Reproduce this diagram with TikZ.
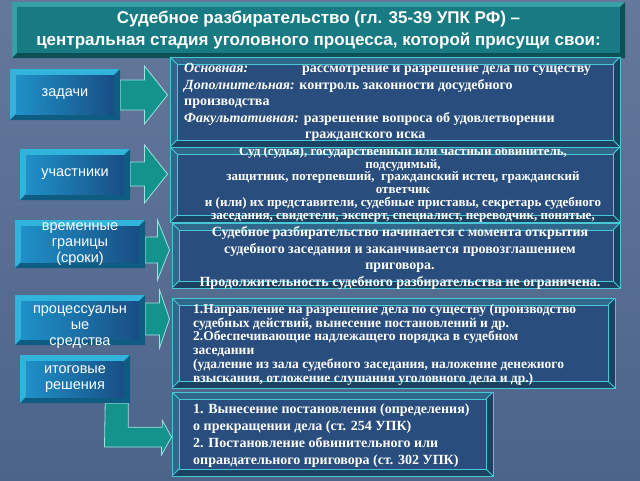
\documentclass[tikz,border=0pt]{standalone}
\usepackage{fontspec}
\setmainfont{Liberation Serif}
\setsansfont{Liberation Sans}
\usepackage{tikz}
\usetikzlibrary{calc, backgrounds}
\definecolor{slatetop}{RGB}{100,120,155}
\definecolor{slatebot}{RGB}{76,100,138}
\definecolor{titleteal}{RGB}{24,122,130}
\definecolor{titleedge}{RGB}{55,160,166}
\definecolor{titledark}{RGB}{12,80,86}
\definecolor{tabcyan}{RGB}{48,180,220}
\definecolor{tabdark}{RGB}{14,92,130}
\definecolor{tabface}{RGB}{30,145,200}
\definecolor{tabfacedark}{RGB}{24,78,132}
\definecolor{panelblue}{RGB}{41,77,124}
\definecolor{panelbevel}{RGB}{48,104,140}
\definecolor{paneldark}{RGB}{28,66,98}
\definecolor{paneledge}{RGB}{72,200,215}
\definecolor{arrowteal}{RGB}{20,146,140}
\definecolor{arrowedge}{RGB}{160,225,225}

% block arrow from a tab to a panel
\newcommand{\blockarrow}[6]{%
  \draw[blockarr] ($(#1.east |- 0,#3)+(0,-#4)$) -- ($(#2.west |- 0,#3)+(-#6-2,-#4)$)
    -- ($(#2.west |- 0,#3)+(-#6-2,-#5)$) -- ($(#2.west |- 0,#3)+(-2,0)$)
    -- ($(#2.west |- 0,#3)+(-#6-2,#5)$) -- ($(#2.west |- 0,#3)+(-#6-2,#4)$)
    -- ($(#1.east |- 0,#3)+(0,#4)$) -- cycle;}

\begin{document}
\begin{tikzpicture}[x=1pt, y=-1pt,
    titlebox/.style={minimum width=613pt, minimum height=56pt, inner sep=0pt, align=center, text=white,
      font=\sffamily\bfseries\fontsize{17}{22}\selectfont, fill=titleedge,
      path picture={
        \fill[titledark] (path picture bounding box.south west) -- (path picture bounding box.south east)
          -- (path picture bounding box.north east) -- ([shift={(-5pt,-5pt)}]path picture bounding box.north east)
          -- ([shift={(-5pt,5pt)}]path picture bounding box.south east) -- ([shift={(5pt,5pt)}]path picture bounding box.south west) -- cycle;
        \fill[titleteal] ([shift={(5pt,-5pt)}]path picture bounding box.north west) rectangle ([shift={(-5pt,5pt)}]path picture bounding box.south east);
      }},
    tab/.style={minimum width=110pt, minimum height=51pt, inner sep=0pt, align=center, text=white,
      font=\sffamily\fontsize{14.5}{16}\selectfont, fill=tabcyan,
      path picture={
        \fill[tabdark] (path picture bounding box.south west) -- (path picture bounding box.south east)
          -- (path picture bounding box.north east) -- ([shift={(-6pt,-6pt)}]path picture bounding box.north east)
          -- ([shift={(-6pt,6pt)}]path picture bounding box.south east) -- ([shift={(6pt,6pt)}]path picture bounding box.south west) -- cycle;
        \shade[left color=tabface, right color=tabfacedark] ([shift={(6pt,-6pt)}]path picture bounding box.north west) rectangle ([shift={(-6pt,6pt)}]path picture bounding box.south east);
      }},
    panel/.style={draw=paneledge, line width=1pt, fill=panelbevel, inner sep=0pt,
      path picture={
        \fill[paneldark] (path picture bounding box.south west) -- (path picture bounding box.south east)
          -- (path picture bounding box.north east) -- ([shift={(-7pt,-7pt)}]path picture bounding box.north east)
          -- ([shift={(-7pt,7pt)}]path picture bounding box.south east) -- ([shift={(7pt,7pt)}]path picture bounding box.south west) -- cycle;
        \draw[paneledge, fill=panelblue] ([shift={(7pt,-7pt)}]path picture bounding box.north west) rectangle ([shift={(-7pt,7pt)}]path picture bounding box.south east);
        \draw[paneledge] (path picture bounding box.north west) -- ++(7pt,-7pt);
        \draw[paneledge] (path picture bounding box.north east) -- ++(-7pt,-7pt);
        \draw[paneledge] (path picture bounding box.south west) -- ++(7pt,7pt);
        \draw[paneledge] (path picture bounding box.south east) -- ++(-7pt,7pt);
      }},
    paneltext/.style={inner sep=0pt, text=white},
    blockarr/.style={fill=arrowteal, draw=arrowedge, line width=0.8pt, line join=miter}
]
\useasboundingbox (0,0) rectangle (640,480);
\begin{scope}[on background layer]
  \fill[top color=slatetop, bottom color=slatebot] (0,0) rectangle (640,480);
\end{scope}

% Title
\node[titlebox] (title) at (318.5,30) {Судебное разбирательство (гл. 35-39 УПК РФ) –\\центральная стадия уголовного процесса, которой присущи свои:};

% Left tabs
\node[tab] (tasks) at (65,94.5) {задачи};
\node[tab] (parties) at (75,174.5) {участники};
\node[tab, minimum width=130pt, minimum height=48pt] (terms) at (80,244) {временные\\границы\\(сроки)};
\node[tab, minimum width=130pt, minimum height=50pt] (means) at (80,320) {};
\node[align=center, text=white, font=\sffamily\fontsize{14.5}{16}\selectfont, inner sep=0pt] (meanstext) at (80,327) {процессуальн\\ые\\средства};
\node[tab, minimum height=48pt] (verdicts) at (75,379) {итоговые\\решения};

% Right panels
\node[panel, minimum width=450pt, minimum height=75pt] (partiesbox) at (395,184.5) {};
\node[paneltext, align=center, font=\bfseries\fontsize{13}{12.8}\selectfont] (partiestext) at (403,184) {Суд (судья), государственный или частный обвинитель,\\подсудимый,\\защитник, потерпевший,~ гражданский истец, гражданский\\ответчик\\и (или) их представители, судебные приставы, секретарь судебного\\заседания, свидетели, эксперт, специалист, переводчик, понятые,};

\node[panel, minimum width=450pt, minimum height=90pt] (tasksbox) at (395,102) {};
\node[paneltext, anchor=west, align=left, font=\bfseries\fontsize{14}{16.5}\selectfont] (taskstext) at (184,102.5) {\makebox[118pt][l]{\textit{Основная:}}рассмотрение и разрешение дела по существу\\
\textit{Дополнительная:} контроль законности досудебного\\
производства\\
\textit{Факультативная:} разрешение вопроса об удовлетворении\\
\hspace*{121pt}гражданского иска};

\node[panel, minimum width=448pt, minimum height=65pt] (termsbox) at (396,255.5) {};
\node[paneltext, align=center, font=\bfseries\fontsize{14}{16.7}\selectfont] (termstext) at (400,258) {Судебное разбирательство начинается с момента открытия\\судебного заседания и заканчивается провозглашением\\приговора.\\Продолжительность судебного разбирательства не ограничена.};

\node[panel, minimum width=443pt, minimum height=90pt] (meansbox) at (393.5,343) {};
\node[paneltext, anchor=west, align=left, font=\bfseries\fontsize{13.5}{13.8}\selectfont] (meansinfo) at (193,344.5) {1.Направление на разрешение дела по существу (производство\\
судебных действий, вынесение постановлений и др.\\
2.Обеспечивающие надлежащего порядка в судебном\\
заседании\\
(удаление из зала судебного заседания, наложение денежного\\
взыскания, отложение слушания уголовного дела и др.)};

\node[panel, minimum width=321pt, minimum height=84pt] (verdictsbox) at (332.5,434) {};
\node[paneltext, anchor=west, align=left, font=\bfseries\fontsize{14}{17}\selectfont] (verdictstext) at (193,435.5) {1. Вынесение постановления (определения)\\
о прекращении дела (ст. 254 УПК)\\
2. Постановление обвинительного или\\
оправдательного приговора (ст. 302 УПК)};

% Arrows
\begin{scope}[on background layer]
\blockarrow{tasks}{tasksbox}{95}{15}{29}{23}
\blockarrow{parties}{partiesbox}{174}{12}{29}{23}
\blockarrow{terms}{termsbox}{250}{13}{30}{12}
\blockarrow{means}{meansbox}{319}{16}{29}{10}
\draw[blockarr] ($(verdicts.south east)+(-25,0)$) -- ++(23,0) -- ++(0,24) -- ++(34,0) -- ++(0,-7)
  -- ($(verdictsbox.west)+(0,3)$) -- ++(-10,18) -- ++(0,-8) -- ++(-57,0) -- cycle;
\end{scope}

\end{tikzpicture}
\end{document}
